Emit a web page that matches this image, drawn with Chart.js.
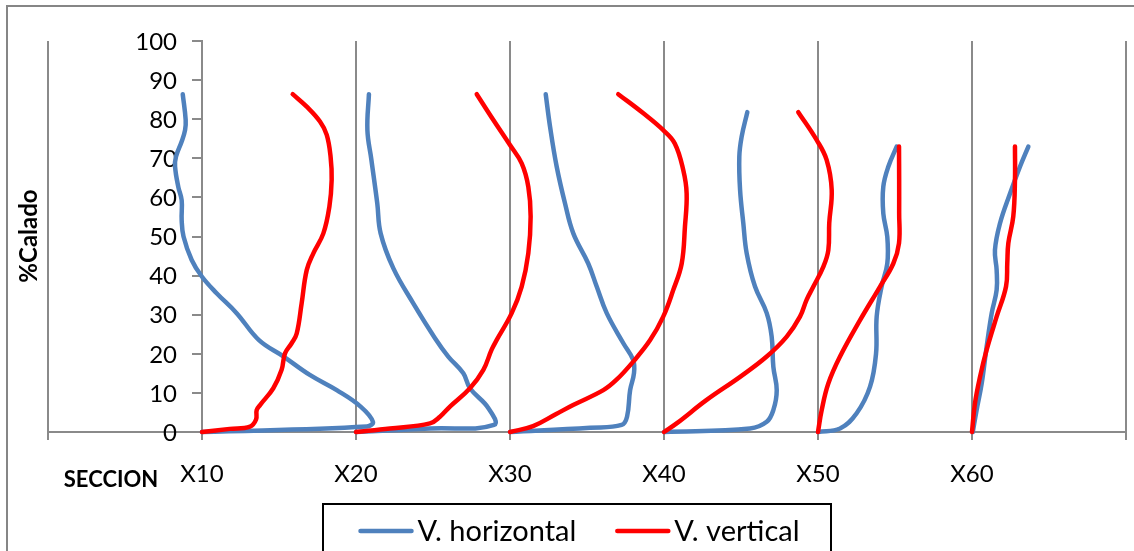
<!DOCTYPE html>
<html>
<head>
<meta charset="utf-8">
<script src="https://cdn.jsdelivr.net/npm/chart.js@4.4.1/dist/chart.umd.min.js"></script>
<style>
  html, body { margin: 0; padding: 0; background: #fff; }
  #wrap { width: 1134px; height: 551px; position: relative; }
</style>
</head>
<body>
<div id="wrap"><canvas id="perfiles"></canvas></div>
<script>
// sections along the X axis and their labels
const secciones = [10, 20, 30, 40, 50, 60];
const etiquetasSeccion = ['X10', 'X20', 'X30', 'X40', 'X50', 'X60'];
const leyenda = ['V. horizontal', 'V. vertical'];

// horizontal velocity profiles: % calado and plotted position
const caladoH10 = [0, 1.4, 2.6, 6.5, 10.7, 14.6, 19.3, 23.5, 30.4, 35.5, 39.7, 44, 50, 54.2, 59.3, 62.7, 67.9, 70.4, 74.3, 77.2, 79.8, 86.4];
const posH10 = [10, 20.7, 21.1, 20.3, 18.75, 17.0, 15.3, 13.7, 12.25, 10.95, 10.0, 9.33, 8.8, 8.68, 8.68, 8.46, 8.25, 8.31, 8.68, 8.9, 8.94, 8.75];

const caladoH20 = [0, 0.9, 1.8, 6.1, 11.2, 15, 19.3, 24, 32.9, 41.9, 50.8, 58.5, 69.6, 77.2, 86.4];
const posH20 = [20, 24.8, 28.96, 28.6, 27.4, 26.97, 25.99, 25.13, 23.72, 22.42, 21.6, 21.38, 21.0, 20.74, 20.84];

const caladoH30 = [0, 1.1, 1.8, 3.9, 10.7, 15, 18.4, 22.7, 30.4, 37.2, 43.1, 50.8, 58.5, 67.9, 78.1, 86.4];
const posH30 = [30, 35.2, 37.25, 37.6, 37.8, 38.05, 38.0, 37.36, 36.28, 35.63, 35.08, 34.11, 33.57, 33.03, 32.6, 32.32];

const caladoH40 = [0, 0.9, 2.6, 5.6, 10.7, 16.7, 24.4, 30.4, 37.2, 45.7, 53.4, 61.9, 70.4, 75.5, 81.8];
const posH40 = [40, 45.58, 46.67, 47.1, 47.32, 47.1, 46.99, 46.67, 45.91, 45.37, 45.15, 44.94, 44.89, 45.04, 45.41];

const caladoH50 = [0, 0.9, 4.8, 11.6, 20.1, 29.5, 37.2, 43.1, 49.9, 55.9, 62.7, 67.9, 73];
const posH50 = [50, 51.43, 52.51, 53.38, 53.77, 53.81, 54.13, 54.5, 54.5, 54.24, 54.24, 54.57, 55.11];

const caladoH60 = [0, 5.6, 12.4, 21.8, 30.4, 36.3, 41.4, 46.5, 53.4, 61, 67.9, 73];
const posH60 = [60.05, 60.3, 60.63, 60.95, 61.28, 61.6, 61.6, 61.49, 61.82, 62.47, 63.12, 63.66];

// vertical velocity profiles
const caladoV10 = [0, 0.8, 1.4, 3.2, 5.6, 6.9, 11.2, 15.9, 20.1, 22.7, 25.2, 32.9, 41.4, 45.7, 50.8, 57.6, 64.5, 70.4, 76, 79.4, 83.2, 86.4];
const posV10 = [10, 11.8, 13.12, 13.51, 13.55, 13.77, 14.63, 15.17, 15.39, 15.82, 16.15, 16.47, 16.8, 17.23, 17.88, 18.27, 18.42, 18.35, 18.1, 17.66, 16.8, 15.89];

const caladoV20 = [0, 0.9, 2.2, 3.9, 6.5, 11.2, 15.9, 21, 23.5, 30.4, 37.2, 45.7, 55.1, 62.7, 68.7, 73.4, 79.8, 86.4];
const posV20 = [20, 22.2, 24.8, 25.45, 26.1, 27.4, 28.27, 28.8, 29.13, 30.11, 30.76, 31.19, 31.34, 31.19, 30.76, 30.0, 28.92, 27.84];

const caladoV30 = [0, 1.5, 4.6, 6.9, 10.7, 13.3, 18, 23.5, 29.5, 36.3, 43.1, 52.5, 61, 67, 73.8, 77.2, 81.5, 86.4];
const posV30 = [30, 31.5, 33.0, 34.1, 36.06, 36.9, 38.0, 39.1, 39.95, 40.6, 41.15, 41.36, 41.47, 41.25, 40.7, 39.95, 38.66, 37.03];

const caladoV40 = [0, 2.2, 8.2, 14.1, 19.3, 24.4, 29.5, 33.8, 37.2, 42.3, 46.5, 53.4, 61.9, 69.6, 74.7, 81.8];
const posV40 = [40, 40.82, 42.77, 44.94, 46.67, 47.97, 48.83, 49.26, 49.7, 50.35, 50.67, 50.73, 50.89, 50.56, 49.91, 48.72];

const caladoV50 = [0, 5.6, 12.4, 19.3, 28.6, 37.2, 43.1, 48.3, 56, 64.5, 73];
const posV50 = [50, 50.24, 50.67, 51.43, 52.73, 54.03, 54.89, 55.26, 55.27, 55.27, 55.26];

const caladoV60 = [0, 7.3, 14.1, 21, 29.5, 37.2, 43.1, 48.3, 55.1, 64.5, 73];
const posV60 = [60, 60.19, 60.52, 60.95, 61.6, 62.21, 62.29, 62.36, 62.68, 62.79, 62.79];

const perfilesH = [[caladoH10, posH10], [caladoH20, posH20], [caladoH30, posH30], [caladoH40, posH40], [caladoH50, posH50], [caladoH60, posH60]];
const perfilesV = [[caladoV10, posV10], [caladoV20, posV20], [caladoV30, posV30], [caladoV40, posV40], [caladoV50, posV50], [caladoV60, posV60]];

const AZUL = '#4F81BD';
const ROJO = '#FF0000';
const GRIS = '#8a8a8a';

Chart.defaults.font.family = 'Lato';
Chart.defaults.color = '#000';

function toPoints(calado, pos) {
    return calado.map((c, i) => ({ x: pos[i], y: c }));
}

function profileDataset(label, color, order, [calado, pos]) {
    return {
        label: label,
        data: toPoints(calado, pos),
        borderColor: color,
        backgroundColor: color,
        borderWidth: 4.5,
        borderCapStyle: 'round',
        borderJoinStyle: 'round',
        showLine: true,
        pointRadius: 0,
        tension: 0.4,
        clip: false,
        order: order,
    };
}

// red lines sit on top of the blue ones
const datasets = [
    ...perfilesH.map(p => profileDataset(leyenda[0], AZUL, 1, p)),
    ...perfilesV.map(p => profileDataset(leyenda[1], ROJO, 0, p)),
];

// frame, y tick labels, axis captions and a boxed legend
const chartDecor = {
    id: 'chartDecor',
    beforeDraw(chart) {
        const ctx = chart.ctx;
        ctx.save();
        ctx.strokeStyle = '#868686';
        ctx.lineWidth = 2;
        ctx.strokeRect(7, 6, 1200, 600);
        ctx.restore();
    },
    beforeDatasetsDraw(chart) {
        // the y axis crosses at X10, its labels sit left of the tick marks
        const ctx = chart.ctx;
        const yScale = chart.scales.y;
        const xAxis = chart.scales.x.getPixelForValue(yScale.options.position.x);
        ctx.save();
        ctx.fillStyle = '#000';
        ctx.font = '24px Lato';
        ctx.textAlign = 'right';
        ctx.textBaseline = 'middle';
        yScale.ticks.forEach(t => {
            ctx.fillText(String(t.value), xAxis - 25, yScale.getPixelForValue(t.value) + 1);
        });
        ctx.restore();
    },
    afterDraw(chart) {
        const ctx = chart.ctx;
        ctx.save();
        ctx.fillStyle = '#000';

        ctx.font = 'bold 22px Lato';
        ctx.textAlign = 'center';
        ctx.textBaseline = 'middle';
        ctx.fillText('SECCION', 111, 480);

        ctx.save();
        ctx.translate(29, 236);
        ctx.rotate(-Math.PI / 2);
        ctx.font = 'bold 24px Lato';
        ctx.fillText('%Calado', 0, 0);
        ctx.restore();

        // legend
        ctx.font = '29px Lato';
        ctx.textAlign = 'left';
        const lineLen = 55, textGap = 4, itemGap = 39;
        const items = leyenda.map(label => {
            const ds = chart.data.datasets.find(d => d.label === label);
            return { label, color: ds.borderColor, w: ctx.measureText(label).width };
        });
        const total = items.reduce((s, it) => s + lineLen + textGap + it.w, 0) + itemGap * (items.length - 1);
        let x = 579 - total / 2;
        const y = 531;
        ctx.strokeStyle = '#000';
        ctx.lineWidth = 2;
        ctx.strokeRect(323, 504, 508, 80);
        items.forEach(it => {
            ctx.strokeStyle = it.color;
            ctx.lineWidth = 4.5;
            ctx.lineCap = 'round';
            ctx.beginPath();
            ctx.moveTo(x + 2, y);
            ctx.lineTo(x + lineLen - 2, y);
            ctx.stroke();
            x += lineLen + textGap;
            ctx.fillText(it.label, x, y + 1);
            x += it.w + itemGap;
        });
        ctx.restore();
    },
};

new Chart(document.getElementById('perfiles'), {
    type: 'scatter',
    data: { datasets },
    options: {
        responsive: true,
        maintainAspectRatio: false,
        animation: false,
        events: [],
        layout: { padding: { left: 48, top: 41, right: 8, bottom: 0 } },
        plugins: {
            legend: { display: false },
            tooltip: { enabled: false },
        },
        scales: {
            x: {
                type: 'linear',
                min: 0,
                max: 70,
                afterFit: scale => {
                    scale.height = 119;
                    scale.paddingLeft = 0;
                    scale.paddingRight = 0;
                },
                grid: { color: GRIS, lineWidth: 2, tickLength: 8, drawOnChartArea: true },
                border: { display: true, color: GRIS, width: 2 },
                ticks: {
                    stepSize: 10,
                    maxRotation: 0,
                    autoSkip: false,
                    padding: 20,
                    font: { size: 24 },
                    callback: v => {
                        const i = secciones.indexOf(v);
                        return i >= 0 ? etiquetasSeccion[i] : '';
                    },
                },
            },
            y: {
                type: 'linear',
                position: { x: 10 },
                min: 0,
                max: 100,
                afterFit: scale => {
                    scale.paddingTop = 0;
                    scale.paddingBottom = 0;
                },
                grid: { drawOnChartArea: false, drawTicks: true, tickLength: 9, color: GRIS, lineWidth: 2 },
                border: { display: true, color: GRIS, width: 2 },
                ticks: { stepSize: 10, display: false },
            },
        },
    },
    plugins: [chartDecor],
});
</script>
</body>
</html>
